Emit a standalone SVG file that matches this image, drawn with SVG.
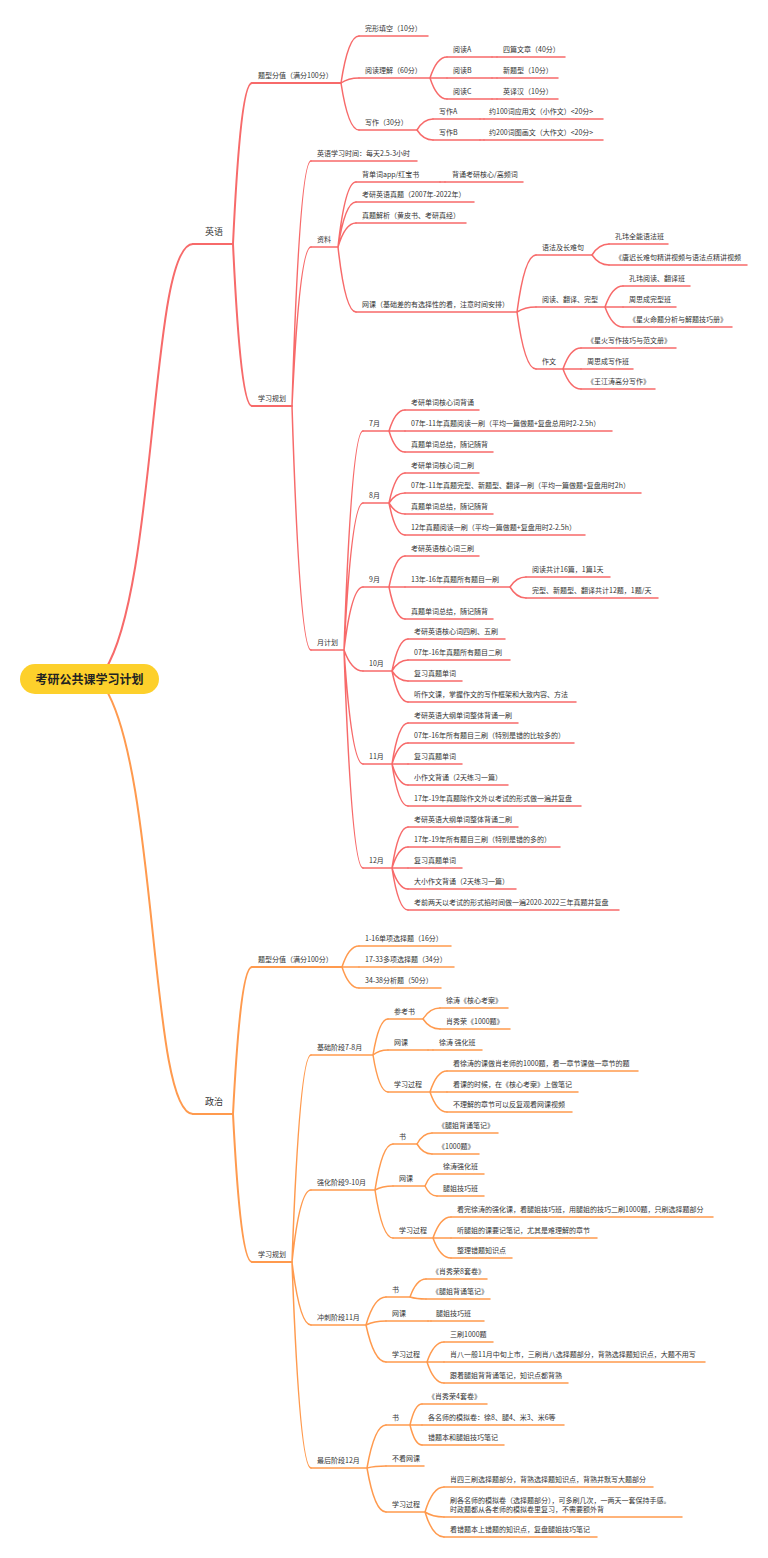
<svg xmlns="http://www.w3.org/2000/svg" width="768" height="1558" viewBox="0 0 768 1558">
<style>
.t{font-family:"Noto Sans CJK SC","Noto Sans",sans-serif;font-size:7px;fill:#333}
.l1{font-size:9px}
.ce{fill:none;stroke:#F76A6A;stroke-width:1.5;stroke-linecap:round}
.cp{fill:none;stroke:#FF9A4E;stroke-width:1.5;stroke-linecap:round}
.w2{stroke-width:2}
.root{font-family:"Noto Sans CJK SC","Noto Sans",sans-serif;font-size:12px;font-weight:bold;fill:#222}
</style>
<rect width="768" height="1558" fill="#fff"/>
<g id="connectors">
<path class="ce w2" d="M105,670 C158,585 150,244 193,244"/>
<path class="cp w2" d="M105,688 C158,773 150,1114 193,1114"/>
<path class="ce w2" d="M233,244 c3.8,-80.5 9.5,-161 19,-161"/>
<path class="ce w2" d="M233,244 c3.8,81 9.5,162 19,162"/>
<path class="ce" d="M341,83 c3.6,-23.5 9,-47 18,-47 M341,83 c3.6,-2.5 9,-5 18,-5 M341,83 c3.6,23.5 9,47 18,47"/>
<path class="ce" d="M430,78 c3.4,-10.5 8.5,-21 17,-21 M430,78 h17 M430,78 c3.4,10.5 8.5,21 17,21"/>
<path class="ce" d="M492,57 h5 M492,78 h5 M492,99 h5"/>
<path class="ce" d="M417,130 c3.2,-5.5 8,-11 16,-11 M417,130 c3.2,5 8,10 16,10 M480,119 h4 M480,140 h4"/>
<path class="ce" d="M292,406 c3.8,-122.5 9.5,-245 19,-245 M292,406 c3.8,-79.5 9.5,-159 19,-159 M292,406 c3.8,122 9.5,244 19,244"/>
<path class="ce" d="M338,247 c3.6,-32.5 9,-65 18,-65 M338,247 c3.6,-22.5 9,-45 18,-45 M338,247 c3.6,-12 9,-24 18,-24 M338,247 c3.6,32.5 9,65 18,65 M440,182 h5"/>
<path class="ce" d="M517,312 c3.8,-28.5 9.5,-57 19,-57 M517,312 c3.8,-2.5 9.5,-5 19,-5 M517,312 c3.8,28.5 9.5,57 19,57"/>
<path class="ce" d="M592,255 c3.4,-5.5 8.5,-11 17,-11 M592,255 c3.4,5 8.5,10 17,10"/>
<path class="ce" d="M605,307 c3.6,-10.5 9,-21 18,-21 M605,307 h18 M605,307 c3.6,10 9,20 18,20"/>
<path class="ce" d="M563,369 c3.6,-10.5 9,-21 18,-21 M563,369 h18 M563,369 c3.6,10 9,20 18,20"/>
<path class="ce" d="M344,650 c3.8,-109.5 9.5,-219 19,-219 M344,650 c3.8,-73.5 9.5,-147 19,-147 M344,650 c3.8,-31.5 9.5,-63 19,-63 M344,650 c3.8,10.5 9.5,21 19,21 M344,650 c3.8,57 9.5,114 19,114 M344,650 c3.8,109 9.5,218 19,218"/>
<path class="ce" d="M389,431 c3.2,-10.5 8,-21 16,-21 M389,431 h16 M389,431 c3.2,10.5 8,21 16,21"/>
<path class="ce" d="M389,503 c3.2,-15 8,-30 16,-30 M389,503 c3.2,-5 8,-10 16,-10 M389,503 c3.2,5.5 8,11 16,11 M389,503 c3.2,16 8,32 16,32"/>
<path class="ce" d="M389,587 c3.2,-15.5 8,-31 16,-31 M389,587 h16 M389,587 c3.2,16 8,32 16,32 M510,587 c3.2,-5 8,-10 16,-10 M510,587 c3.2,5.5 8,11 16,11"/>
<path class="ce" d="M392,671 c3.2,-16 8,-32 16,-32 M392,671 c3.2,-5.5 8,-11 16,-11 M392,671 c3.2,5 8,10 16,10 M392,671 c3.2,15.5 8,31 16,31"/>
<path class="ce" d="M392,764 c3.2,-20.5 8,-41 16,-41 M392,764 c3.2,-10.5 8,-21 16,-21 M392,764 h16 M392,764 c3.2,10.5 8,21 16,21 M392,764 c3.2,21 8,42 16,42"/>
<path class="ce" d="M392,868 c3.2,-20.5 8,-41 16,-41 M392,868 c3.2,-10.5 8,-21 16,-21 M392,868 h16 M392,868 c3.2,10.5 8,21 16,21 M392,868 c3.2,21 8,42 16,42"/>
<path class="cp w2" d="M233,1114 c3.8,-73.5 9.5,-147 19,-147"/>
<path class="cp w2" d="M233,1114 c3.8,74 9.5,148 19,148"/>
<path class="cp" d="M342,967 c3.4,-10.5 8.5,-21 17,-21 M342,967 h17 M342,967 c3.4,10.5 8.5,21 17,21"/>
<path class="cp" d="M292,1262 c3.8,-103.5 9.5,-207 19,-207 M292,1262 c3.8,-36 9.5,-72 19,-72 M292,1262 c3.8,31.5 9.5,63 19,63 M292,1262 c3.8,103 9.5,206 19,206"/>
<path class="cp" d="M373,1055 c3,-18 7.5,-36 15,-36 M373,1055 c3,-2.5 7.5,-5 15,-5 M373,1055 c3,18.5 7.5,37 15,37"/>
<path class="cp" d="M423,1019 c3.4,-5.5 8.5,-11 17,-11 M423,1019 c3.4,5 8.5,10 17,10 M428,1050 h5"/>
<path class="cp" d="M430,1092 c3.4,-10.5 8.5,-21 17,-21 M430,1092 h17 M430,1092 c3.4,10 8.5,20 17,20"/>
<path class="cp" d="M375,1190 c3.6,-23 9,-46 18,-46 M375,1190 c3.6,-2 9,-4 18,-4 M375,1190 c3.6,24 9,48 18,48"/>
<path class="cp" d="M417,1144 c3,-5.5 7.5,-11 15,-11 M417,1144 c3,5 7.5,10 15,10"/>
<path class="cp" d="M425,1186 c2.4,-6 6,-12 12,-12 M425,1186 c2.4,5 6,10 12,10"/>
<path class="cp" d="M433,1238 c3.6,-10.5 9,-21 18,-21 M433,1238 h18 M433,1238 c3.6,10 9,20 18,20"/>
<path class="cp" d="M366,1325 c4,-14 10,-28 20,-28 M366,1325 c4,-2 10,-4 20,-4 M366,1325 c4,18.5 10,37 20,37"/>
<path class="cp" d="M410,1297 c3.2,-9 8,-18 16,-18 M410,1297 c3.2,1 8,2 16,2 M428,1321 h3"/>
<path class="cp" d="M427,1362 c3.4,-10 8.5,-20 17,-20 M427,1362 h17 M427,1362 c3.4,10.5 8.5,21 17,21"/>
<path class="cp" d="M367,1468 c3.8,-21.5 9.5,-43 19,-43 M367,1468 c3.8,-1 9.5,-2 19,-2 M367,1468 c3.8,22 9.5,44 19,44"/>
<path class="cp" d="M410,1425 c2.4,-10.5 6,-21 12,-21 M410,1425 h12 M410,1425 c2.4,10 6,20 12,20"/>
<path class="cp" d="M425,1512 c3.8,-12.5 9.5,-25 19,-25 M425,1512 c3.8,2.5 9.5,5 19,5 M425,1512 c3.8,12.5 9.5,25 19,25"/>
</g>
<g id="root"><rect x="20" y="664" width="139" height="30" rx="15" fill="#FDD02B"/><text class="root" x="89.5" y="683.5" text-anchor="middle">考研公共课学习计划</text></g>
<g id="en"><line class="ce w2" x1="193" y1="244" x2="233" y2="244"/><text class="t l1" x="205" y="235">英语</text></g>
<g id="e1"><line class="ce w2" x1="252" y1="83" x2="341" y2="83"/><text class="t" x="258" y="78">题型分值（满分100分）</text></g>
<g id="e2"><line class="ce" x1="359" y1="36" x2="428" y2="36"/><text class="t" x="365" y="31">完形填空（10分）</text></g>
<g id="e3"><line class="ce" x1="359" y1="78" x2="430" y2="78"/><text class="t" x="365" y="73">阅读理解（60分）</text></g>
<g id="e4"><line class="ce" x1="359" y1="130" x2="417" y2="130"/><text class="t" x="365" y="125">写作（30分）</text></g>
<g id="e5"><line class="ce" x1="447" y1="57" x2="492" y2="57"/><text class="t" x="453" y="52">阅读A</text></g>
<g id="e6"><line class="ce" x1="497" y1="57" x2="565" y2="57"/><text class="t" x="503" y="52">四篇文章（40分）</text></g>
<g id="e7"><line class="ce" x1="447" y1="78" x2="492" y2="78"/><text class="t" x="453" y="73">阅读B</text></g>
<g id="e8"><line class="ce" x1="497" y1="78" x2="558" y2="78"/><text class="t" x="503" y="73">新题型（10分）</text></g>
<g id="e9"><line class="ce" x1="447" y1="99" x2="492" y2="99"/><text class="t" x="453" y="94">阅读C</text></g>
<g id="e10"><line class="ce" x1="497" y1="99" x2="558" y2="99"/><text class="t" x="503" y="94">英译汉（10分）</text></g>
<g id="e11"><line class="ce" x1="433" y1="119" x2="480" y2="119"/><text class="t" x="439" y="114">写作A</text></g>
<g id="e12"><line class="ce" x1="484" y1="119" x2="603" y2="119"/><text class="t" x="489" y="114">约100词应用文（小作文）&lt;20分&gt;</text></g>
<g id="e13"><line class="ce" x1="433" y1="140" x2="480" y2="140"/><text class="t" x="439" y="135">写作B</text></g>
<g id="e14"><line class="ce" x1="484" y1="140" x2="603" y2="140"/><text class="t" x="489" y="135">约200词图画文（大作文）&lt;20分&gt;</text></g>
<g id="e15"><line class="ce w2" x1="252" y1="406" x2="292" y2="406"/><text class="t" x="258" y="401">学习规划</text></g>
<g id="e16"><line class="ce" x1="311" y1="161" x2="417" y2="161"/><text class="t" x="317" y="156">英语学习时间：每天2.5-3小时</text></g>
<g id="e17"><line class="ce" x1="311" y1="247" x2="338" y2="247"/><text class="t" x="317" y="242">资料</text></g>
<g id="e18"><line class="ce" x1="356" y1="182" x2="440" y2="182"/><text class="t" x="362" y="177">背单词app/红宝书</text></g>
<g id="e19"><line class="ce" x1="445" y1="182" x2="523" y2="182"/><text class="t" x="452" y="177">背诵考研核心/高频词</text></g>
<g id="e20"><line class="ce" x1="356" y1="202" x2="474" y2="202"/><text class="t" x="362" y="197">考研英语真题（2007年-2022年）</text></g>
<g id="e21"><line class="ce" x1="356" y1="223" x2="466" y2="223"/><text class="t" x="362" y="218">真题解析（黄皮书、考研真经）</text></g>
<g id="e22"><line class="ce" x1="356" y1="312" x2="517" y2="312"/><text class="t" x="362" y="307">网课（基础差的有选择性的看，注意时间安排）</text></g>
<g id="e23"><line class="ce" x1="536" y1="255" x2="592" y2="255"/><text class="t" x="542" y="250">语法及长难句</text></g>
<g id="e24"><line class="ce" x1="609" y1="244" x2="668" y2="244"/><text class="t" x="615" y="239">孔玮全能语法班</text></g>
<g id="e25"><line class="ce" x1="609" y1="265" x2="747" y2="265"/><text class="t" x="615" y="260">《唐迟长难句精讲视频与语法点精讲视频</text></g>
<g id="e26"><line class="ce" x1="536" y1="307" x2="605" y2="307"/><text class="t" x="542" y="302">阅读、翻译、完型</text></g>
<g id="e27"><line class="ce" x1="623" y1="286" x2="690" y2="286"/><text class="t" x="629" y="281">孔玮阅读、翻译班</text></g>
<g id="e28"><line class="ce" x1="623" y1="307" x2="676" y2="307"/><text class="t" x="629" y="302">周思成完型班</text></g>
<g id="e29"><line class="ce" x1="623" y1="327" x2="732" y2="327"/><text class="t" x="629" y="322">《星火命题分析与解题技巧册》</text></g>
<g id="e30"><line class="ce" x1="536" y1="369" x2="563" y2="369"/><text class="t" x="542" y="364">作文</text></g>
<g id="e31"><line class="ce" x1="581" y1="348" x2="676" y2="348"/><text class="t" x="587" y="343">《星火写作技巧与范文册》</text></g>
<g id="e32"><line class="ce" x1="581" y1="369" x2="633" y2="369"/><text class="t" x="587" y="364">周思成写作班</text></g>
<g id="e33"><line class="ce" x1="581" y1="389" x2="655" y2="389"/><text class="t" x="587" y="384">《王江涛高分写作》</text></g>
<g id="e34"><line class="ce" x1="311" y1="650" x2="344" y2="650"/><text class="t" x="317" y="645">月计划</text></g>
<g id="e35"><line class="ce" x1="363" y1="431" x2="389" y2="431"/><text class="t" x="369" y="426">7月</text></g>
<g id="e36"><line class="ce" x1="405" y1="410" x2="479" y2="410"/><text class="t" x="411" y="405">考研单词核心词背诵</text></g>
<g id="e37"><line class="ce" x1="405" y1="431" x2="612" y2="431"/><text class="t" x="411" y="426">07年-11年真题阅读一刷（平均一篇做题+复盘总用时2-2.5h）</text></g>
<g id="e38"><line class="ce" x1="405" y1="452" x2="493" y2="452"/><text class="t" x="411" y="447">真题单词总结，随记随背</text></g>
<g id="e39"><line class="ce" x1="363" y1="503" x2="389" y2="503"/><text class="t" x="369" y="498">8月</text></g>
<g id="e40"><line class="ce" x1="405" y1="473" x2="479" y2="473"/><text class="t" x="411" y="468">考研单词核心词二刷</text></g>
<g id="e41"><line class="ce" x1="405" y1="493" x2="641" y2="493"/><text class="t" x="411" y="488">07年-11年真题完型、新题型、翻译一刷（平均一篇做题+复盘用时2h）</text></g>
<g id="e42"><line class="ce" x1="405" y1="514" x2="493" y2="514"/><text class="t" x="411" y="509">真题单词总结，随记随背</text></g>
<g id="e43"><line class="ce" x1="405" y1="535" x2="585" y2="535"/><text class="t" x="411" y="530">12年真题阅读一刷（平均一篇做题+复盘用时2-2.5h）</text></g>
<g id="e44"><line class="ce" x1="363" y1="587" x2="389" y2="587"/><text class="t" x="369" y="582">9月</text></g>
<g id="e45"><line class="ce" x1="405" y1="556" x2="479" y2="556"/><text class="t" x="411" y="551">考研英语核心词三刷</text></g>
<g id="e46"><line class="ce" x1="405" y1="587" x2="510" y2="587"/><text class="t" x="411" y="582">13年-16年真题所有题目一刷</text></g>
<g id="e47"><line class="ce" x1="526" y1="577" x2="610" y2="577"/><text class="t" x="532" y="572">阅读共计16篇，1篇1天</text></g>
<g id="e48"><line class="ce" x1="526" y1="598" x2="658" y2="598"/><text class="t" x="532" y="593">完型、新题型、翻译共计12题，1题/天</text></g>
<g id="e49"><line class="ce" x1="405" y1="619" x2="493" y2="619"/><text class="t" x="411" y="614">真题单词总结，随记随背</text></g>
<g id="e50"><line class="ce" x1="363" y1="671" x2="392" y2="671"/><text class="t" x="369" y="666">10月</text></g>
<g id="e51"><line class="ce" x1="408" y1="639" x2="505" y2="639"/><text class="t" x="414" y="634">考研英语核心词四刷、五刷</text></g>
<g id="e52"><line class="ce" x1="408" y1="660" x2="510" y2="660"/><text class="t" x="414" y="655">07年-16年真题所有题目二刷</text></g>
<g id="e53"><line class="ce" x1="408" y1="681" x2="462" y2="681"/><text class="t" x="414" y="676">复习真题单词</text></g>
<g id="e54"><line class="ce" x1="408" y1="702" x2="576" y2="702"/><text class="t" x="414" y="697">听作文课，掌握作文的写作框架和大致内容、方法</text></g>
<g id="e55"><line class="ce" x1="363" y1="764" x2="392" y2="764"/><text class="t" x="369" y="759">11月</text></g>
<g id="e56"><line class="ce" x1="408" y1="723" x2="518" y2="723"/><text class="t" x="414" y="718">考研英语大纲单词整体背诵一刷</text></g>
<g id="e57"><line class="ce" x1="408" y1="743" x2="574" y2="743"/><text class="t" x="414" y="738">07年-16年所有题目三刷（特别是错的比较多的）</text></g>
<g id="e58"><line class="ce" x1="408" y1="764" x2="462" y2="764"/><text class="t" x="414" y="759">复习真题单词</text></g>
<g id="e59"><line class="ce" x1="408" y1="785" x2="508" y2="785"/><text class="t" x="414" y="780">小作文背诵（2天练习一篇）</text></g>
<g id="e60"><line class="ce" x1="408" y1="806" x2="581" y2="806"/><text class="t" x="414" y="801">17年-19年真题除作文外以考试的形式做一遍并复盘</text></g>
<g id="e61"><line class="ce" x1="363" y1="868" x2="392" y2="868"/><text class="t" x="369" y="863">12月</text></g>
<g id="e62"><line class="ce" x1="408" y1="827" x2="518" y2="827"/><text class="t" x="414" y="822">考研英语大纲单词整体背诵二刷</text></g>
<g id="e63"><line class="ce" x1="408" y1="847" x2="560" y2="847"/><text class="t" x="414" y="842">17年-19年所有题目三刷（特别是错的多的）</text></g>
<g id="e64"><line class="ce" x1="408" y1="868" x2="462" y2="868"/><text class="t" x="414" y="863">复习真题单词</text></g>
<g id="e65"><line class="ce" x1="408" y1="889" x2="516" y2="889"/><text class="t" x="414" y="884">大小作文背诵（2天练习一篇）</text></g>
<g id="e66"><line class="ce" x1="408" y1="910" x2="619" y2="910"/><text class="t" x="414" y="905">考前两天以考试的形式掐时间做一遍2020-2022三年真题并复盘</text></g>
<g id="zz"><line class="cp w2" x1="193" y1="1114" x2="233" y2="1114"/><text class="t l1" x="205" y="1105">政治</text></g>
<g id="p1"><line class="cp w2" x1="252" y1="967" x2="342" y2="967"/><text class="t" x="258" y="962">题型分值（满分100分）</text></g>
<g id="p2"><line class="cp" x1="359" y1="946" x2="451" y2="946"/><text class="t" x="365" y="941">1-16单项选择题（16分）</text></g>
<g id="p3"><line class="cp" x1="359" y1="967" x2="454" y2="967"/><text class="t" x="365" y="962">17-33多项选择题（34分）</text></g>
<g id="p4"><line class="cp" x1="359" y1="988" x2="441" y2="988"/><text class="t" x="365" y="983">34-38分析题（50分）</text></g>
<g id="p5"><line class="cp w2" x1="252" y1="1262" x2="292" y2="1262"/><text class="t" x="258" y="1257">学习规划</text></g>
<g id="p6"><line class="cp" x1="311" y1="1055" x2="373" y2="1055"/><text class="t" x="317" y="1050">基础阶段7-8月</text></g>
<g id="p7"><line class="cp" x1="388" y1="1019" x2="423" y2="1019"/><text class="t" x="394" y="1014">参考书</text></g>
<g id="p8"><line class="cp" x1="440" y1="1008" x2="508" y2="1008"/><text class="t" x="446" y="1003">徐涛《核心考案》</text></g>
<g id="p9"><line class="cp" x1="440" y1="1029" x2="510" y2="1029"/><text class="t" x="446" y="1024">肖秀荣《1000题》</text></g>
<g id="p10"><line class="cp" x1="388" y1="1050" x2="428" y2="1050"/><text class="t" x="394" y="1045">网课</text></g>
<g id="p11"><line class="cp" x1="433" y1="1050" x2="482" y2="1050"/><text class="t" x="439" y="1045">徐涛 强化班</text></g>
<g id="p12"><line class="cp" x1="388" y1="1092" x2="430" y2="1092"/><text class="t" x="394" y="1087">学习过程</text></g>
<g id="p13"><line class="cp" x1="447" y1="1071" x2="638" y2="1071"/><text class="t" x="453" y="1066">看徐涛的课做肖老师的1000题，看一章节课做一章节的题</text></g>
<g id="p14"><line class="cp" x1="447" y1="1092" x2="578" y2="1092"/><text class="t" x="453" y="1087">看课的时候，在《核心考案》上做笔记</text></g>
<g id="p15"><line class="cp" x1="447" y1="1112" x2="572" y2="1112"/><text class="t" x="453" y="1107">不理解的章节可以反复观看网课视频</text></g>
<g id="p16"><line class="cp" x1="311" y1="1190" x2="375" y2="1190"/><text class="t" x="317" y="1185">强化阶段9-10月</text></g>
<g id="p17"><line class="cp" x1="393" y1="1144" x2="417" y2="1144"/><text class="t" x="399" y="1139">书</text></g>
<g id="p18"><line class="cp" x1="432" y1="1133" x2="498" y2="1133"/><text class="t" x="438" y="1128">《腿姐背诵笔记》</text></g>
<g id="p19"><line class="cp" x1="432" y1="1154" x2="479" y2="1154"/><text class="t" x="438" y="1149">《1000题》</text></g>
<g id="p20"><line class="cp" x1="393" y1="1186" x2="425" y2="1186"/><text class="t" x="399" y="1181">网课</text></g>
<g id="p21"><line class="cp" x1="437" y1="1174" x2="484" y2="1174"/><text class="t" x="443" y="1169">徐涛强化班</text></g>
<g id="p22"><line class="cp" x1="437" y1="1196" x2="484" y2="1196"/><text class="t" x="443" y="1191">腿姐技巧班</text></g>
<g id="p23"><line class="cp" x1="393" y1="1238" x2="433" y2="1238"/><text class="t" x="399" y="1233">学习过程</text></g>
<g id="p24"><line class="cp" x1="451" y1="1217" x2="713" y2="1217"/><text class="t" x="457" y="1212">看完徐涛的强化课，看腿姐技巧班，用腿姐的技巧二刷1000题，只刷选择题部分</text></g>
<g id="p25"><line class="cp" x1="451" y1="1238" x2="597" y2="1238"/><text class="t" x="457" y="1233">听腿姐的课要记笔记，尤其是难理解的章节</text></g>
<g id="p26"><line class="cp" x1="451" y1="1258" x2="512" y2="1258"/><text class="t" x="457" y="1253">整理错题知识点</text></g>
<g id="p27"><line class="cp" x1="311" y1="1325" x2="366" y2="1325"/><text class="t" x="317" y="1320">冲刺阶段11月</text></g>
<g id="p28"><line class="cp" x1="386" y1="1297" x2="410" y2="1297"/><text class="t" x="392" y="1292">书</text></g>
<g id="p29"><line class="cp" x1="426" y1="1279" x2="487" y2="1279"/><text class="t" x="432" y="1274">《肖秀荣8套卷》</text></g>
<g id="p30"><line class="cp" x1="426" y1="1299" x2="490" y2="1299"/><text class="t" x="432" y="1294">《腿姐背诵笔记》</text></g>
<g id="p31"><line class="cp" x1="386" y1="1321" x2="428" y2="1321"/><text class="t" x="392" y="1316">网课</text></g>
<g id="p32"><line class="cp" x1="431" y1="1321" x2="484" y2="1321"/><text class="t" x="436" y="1316">腿姐技巧班</text></g>
<g id="p33"><line class="cp" x1="386" y1="1362" x2="427" y2="1362"/><text class="t" x="392" y="1357">学习过程</text></g>
<g id="p34"><line class="cp" x1="444" y1="1342" x2="493" y2="1342"/><text class="t" x="450" y="1337">三刷1000题</text></g>
<g id="p35"><line class="cp" x1="444" y1="1362" x2="705" y2="1362"/><text class="t" x="450" y="1357">肖八一般11月中旬上市，三刷肖八选择题部分，背熟选择题知识点，大题不用写</text></g>
<g id="p36"><line class="cp" x1="444" y1="1383" x2="568" y2="1383"/><text class="t" x="450" y="1378">跟着腿姐背背诵笔记，知识点都背熟</text></g>
<g id="p37"><line class="cp" x1="311" y1="1468" x2="367" y2="1468"/><text class="t" x="317" y="1463">最后阶段12月</text></g>
<g id="p38"><line class="cp" x1="386" y1="1425" x2="410" y2="1425"/><text class="t" x="392" y="1420">书</text></g>
<g id="p39"><line class="cp" x1="422" y1="1404" x2="487" y2="1404"/><text class="t" x="428" y="1399">《肖秀荣4套卷》</text></g>
<g id="p40"><line class="cp" x1="422" y1="1425" x2="564" y2="1425"/><text class="t" x="428" y="1420">各名师的模拟卷：徐8、腿4、米3、米6等</text></g>
<g id="p41"><line class="cp" x1="422" y1="1445" x2="504" y2="1445"/><text class="t" x="428" y="1440">错题本和腿姐技巧笔记</text></g>
<g id="p42"><line class="cp" x1="386" y1="1466" x2="424" y2="1466"/><text class="t" x="392" y="1461">不看网课</text></g>
<g id="p43"><line class="cp" x1="386" y1="1512" x2="425" y2="1512"/><text class="t" x="392" y="1507">学习过程</text></g>
<g id="p44"><line class="cp" x1="444" y1="1487" x2="653" y2="1487"/><text class="t" x="450" y="1482">肖四三刷选择题部分，背熟选择题知识点，背熟并默写大题部分</text></g>
<g id="p45"><line class="cp" x1="444" y1="1517" x2="682" y2="1517"/><text class="t" x="450" y="1503">刷各名师的模拟卷（选择题部分），可多刷几次，一两天一套保持手感。</text><text class="t" x="450" y="1512">时政题都从各老师的模拟卷里复习，不需要额外背</text></g>
<g id="p46"><line class="cp" x1="444" y1="1537" x2="597" y2="1537"/><text class="t" x="450" y="1532">看错题本上错题的知识点，复盘腿姐技巧笔记</text></g>
</svg>
